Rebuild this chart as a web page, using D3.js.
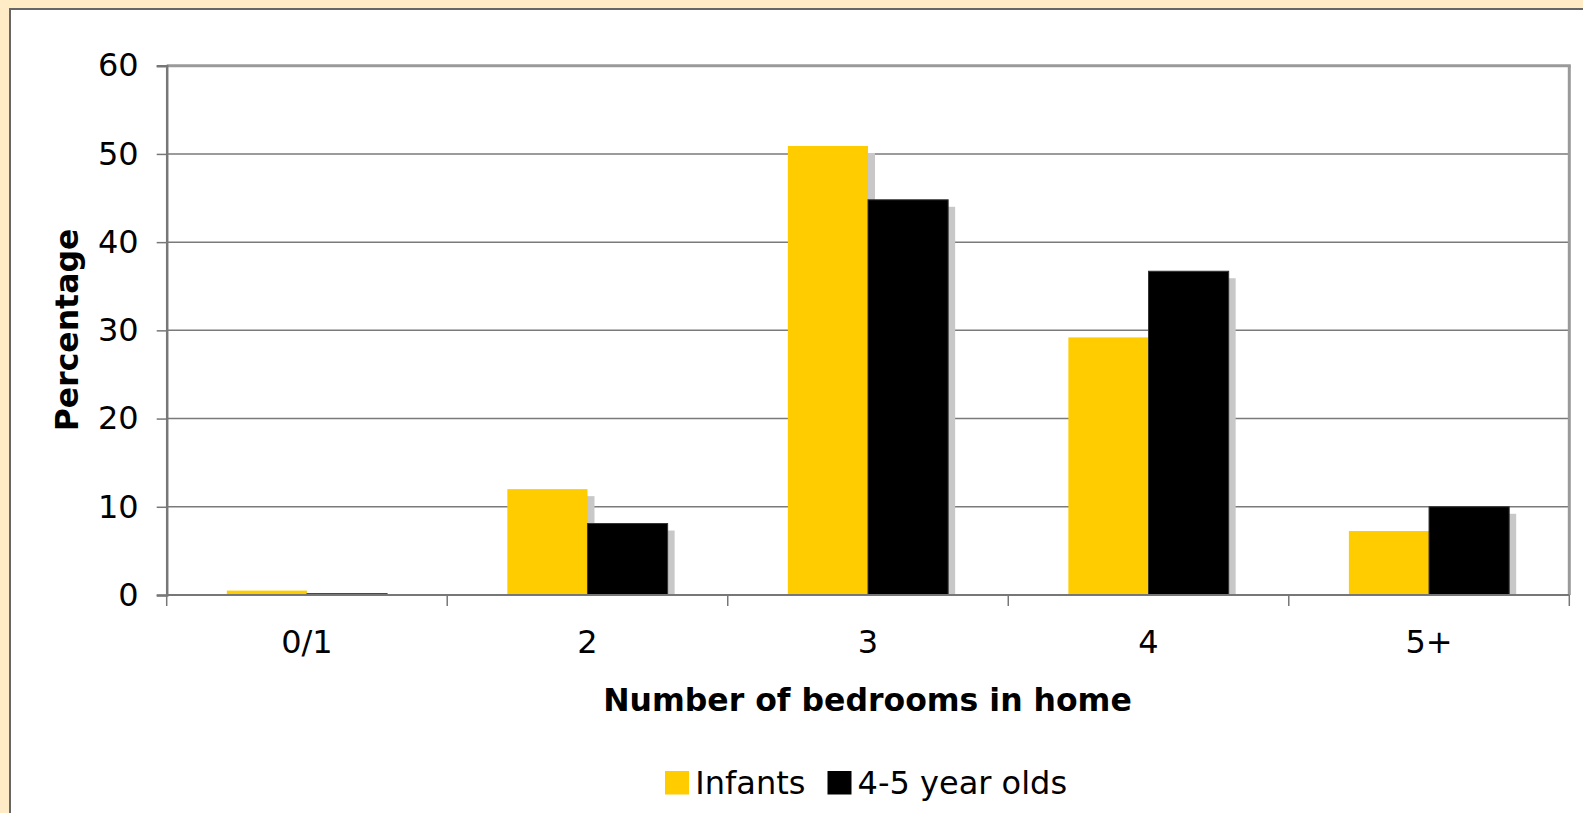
<!DOCTYPE html>
<html>
<head>
<meta charset="utf-8">
<script src="https://cdn.jsdelivr.net/npm/d3@7"></script>
<style>
  html, body { margin: 0; padding: 0; background: #FFEBC6; overflow: hidden; }
  svg { display: block; }
  text { font-family: "DejaVu Sans", Verdana, sans-serif; fill: #000; }
</style>
</head>
<body>
<svg id="chart" width="1583" height="813"></svg>
<script>
const categories = ["0/1", "2", "3", "4", "5+"];
const seriesNames = ["Infants", "4-5 year olds"];
const infants = [0.5, 12.0, 50.9, 29.2, 7.25];
const olds = [0.15, 8.1, 44.8, 36.7, 10.0];
const yTicks = [0, 10, 20, 30, 40, 50, 60];
const colors = ["#FFCC00", "#000000"];

const svg = d3.select("#chart");
const W = 1583, H = 813;
const FS = 32, FSB = 31.5;

// chart area (white) with border
svg.append("rect").attr("x", 0).attr("y", 0).attr("width", W).attr("height", H).attr("fill", "#FFEBC6");
svg.append("rect").attr("x", 10).attr("y", 9).attr("width", W).attr("height", H)
  .attr("fill", "#fff").attr("stroke", "#666").attr("stroke-width", 2);

const plot = { left: 166.7, right: 1569.3, top: 65.7, bottom: 595 };

const x0 = d3.scaleBand().domain(categories).range([plot.left, plot.right]).padding(0);
const step = x0.step();
const gap = step * 1.5 / 3.5;
const x1 = d3.scaleBand().domain(seriesNames).range([gap / 2, step - gap / 2]).padding(0);
const y = d3.scaleLinear().domain([0, 60]).range([plot.bottom, plot.top]);

// gridlines
svg.append("g").selectAll("line").data(yTicks.filter(d => d > 0 && d < 60)).join("line")
  .attr("x1", plot.left).attr("x2", plot.right)
  .attr("y1", d => y(d)).attr("y2", d => y(d))
  .attr("stroke", "#7a7a7a").attr("stroke-width", 1.5);

// plot frame top & right
svg.append("line").attr("x1", plot.left).attr("x2", plot.right + 1.5)
  .attr("y1", plot.top).attr("y2", plot.top).attr("stroke", "#9a9a9a").attr("stroke-width", 3);
svg.append("line").attr("x1", plot.right).attr("x2", plot.right)
  .attr("y1", plot.top).attr("y2", plot.bottom).attr("stroke", "#9a9a9a").attr("stroke-width", 3);

const rows = categories.map((c, i) => ({ cat: c, vals: [infants[i], olds[i]] }));

const groups = svg.append("g").selectAll("g").data(rows).join("g")
  .attr("transform", d => `translate(${x0(d.cat)},0)`);

seriesNames.forEach((s, si) => {
  groups.append("rect")
    .attr("x", d => x1(s) + 7)
    .attr("y", d => y(d.vals[si]) + 7)
    .attr("width", x1.bandwidth())
    .attr("height", d => Math.max(0, plot.bottom - y(d.vals[si]) - 7))
    .attr("fill", "#c8c8c8");
  groups.append("rect")
    .attr("x", d => x1(s))
    .attr("y", d => y(d.vals[si]))
    .attr("width", x1.bandwidth())
    .attr("height", d => plot.bottom - y(d.vals[si]))
    .attr("fill", colors[si])
    .attr("stroke", si === 1 ? "#333" : "none")
    .attr("stroke-width", si === 1 ? 1 : 0);
});

// y axis
const yAxis = d3.axisLeft(y).tickValues(yTicks).tickSize(10).tickPadding(18).tickFormat(d3.format("d"));
const ya = svg.append("g").attr("transform", `translate(${plot.left},0)`).call(yAxis);
ya.select(".domain").attr("stroke", "#777").attr("stroke-width", 2.5);
ya.selectAll(".tick line").attr("stroke", "#777").attr("stroke-width", 1.5);
ya.selectAll(".tick text").attr("font-size", FS).attr("font-family", "DejaVu Sans, Verdana, sans-serif").attr("fill", "#000");

// x axis (ticks at category boundaries)
const xa = svg.append("g").attr("transform", `translate(0,${plot.bottom})`);
xa.append("line").attr("x1", plot.left).attr("x2", plot.right).attr("stroke", "#777").attr("stroke-width", 2);
const bounds = categories.map(c => x0(c)).concat([plot.right]);
xa.selectAll(".bt").data(bounds).join("line").attr("class", "bt")
  .attr("x1", d => d).attr("x2", d => d).attr("y1", 0).attr("y2", 11)
  .attr("stroke", "#777").attr("stroke-width", 1.5);
xa.selectAll(".xl").data(categories).join("text").attr("class", "xl")
  .attr("x", d => x0(d) + step / 2).attr("y", 58)
  .attr("text-anchor", "middle").attr("font-size", FS).text(d => d);

// axis titles
svg.append("text").attr("x", 867.5).attr("y", 710.5).attr("text-anchor", "middle")
  .attr("font-size", FSB).attr("font-weight", "bold").text("Number of bedrooms in home");
svg.append("text").attr("transform", `translate(77.5,330) rotate(-90)`).attr("text-anchor", "middle")
  .attr("font-size", FSB).attr("font-weight", "bold").text("Percentage");

// legend
const legend = svg.append("g");
const items = [
  { name: seriesNames[0], color: colors[0], sx: 665, tx: 695.3 },
  { name: seriesNames[1], color: colors[1], sx: 827.5, tx: 857.6 }
];
items.forEach(it => {
  legend.append("rect").attr("x", it.sx).attr("y", 771).attr("width", 24).attr("height", 23.5).attr("fill", it.color);
  legend.append("text").attr("x", it.tx).attr("y", 794.3).attr("font-size", FS).text(it.name);
});
</script>
</body>
</html>
